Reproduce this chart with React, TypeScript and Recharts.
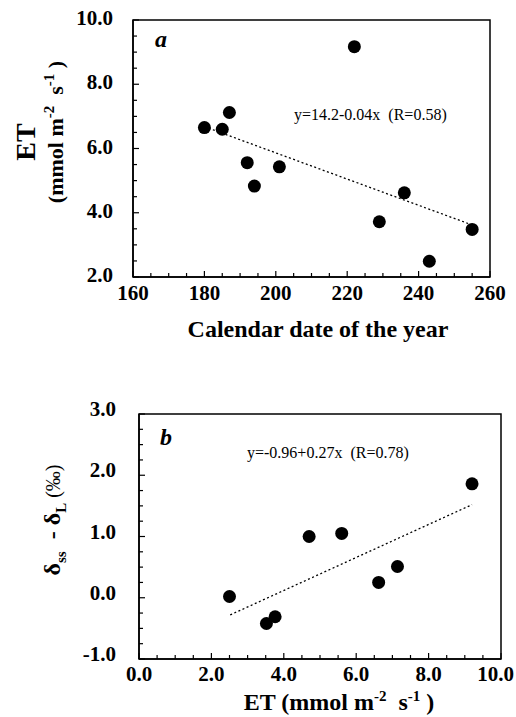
import React from "react"
import { ReferenceArea, Scatter, ScatterChart, XAxis, YAxis } from "recharts"

// panel a: ET versus calendar day
const daysA = [180, 185, 187, 192, 194, 201, 222, 229, 236, 243, 255]
const etA = [6.65, 6.6, 7.12, 5.56, 4.83, 5.43, 9.17, 3.72, 4.62, 2.49, 3.48]
const trendDaysA = [180, 255]
const trendEtA = [6.68, 3.62]

// panel b: delta difference versus ET
const etB = [2.5, 3.52, 3.76, 4.7, 5.6, 6.62, 7.14, 9.2]
const deltaB = [0.02, -0.42, -0.31, 1.0, 1.05, 0.25, 0.51, 1.86]
const trendEtB = [2.52, 9.2]
const trendDeltaB = [-0.28, 1.52]

const xLabelsA = [160, 180, 200, 220, 240, 260]
const yLabelsA = [2, 4, 6, 8, 10]
const xLabelsB = [0, 2, 4, 6, 8, 10]
const yLabelsB = [-1, 0, 1, 2, 3]

const pointsA = daysA.map((x, i) => ({ x, y: etA[i] }))
const lineA = trendDaysA.map((x, i) => ({ x, y: trendEtA[i] }))
const pointsB = etB.map((x, i) => ({ x, y: deltaB[i] }))
const lineB = trendEtB.map((x, i) => ({ x, y: trendDeltaB[i] }))

const steps = (lo: number, hi: number, step: number) => {
  const out: number[] = []
  for (let i = 0; lo + i * step <= hi + 1e-9; i++) out.push(+(lo + i * step).toFixed(4))
  return out
}

const FONT = "'Liberation Serif', 'Times New Roman', serif"
const TICK_FS = 21
const isLabel = (labels: number[], v: number) => labels.some((l) => Math.abs(l - v) < 1e-6)

const makeXTick = (labels: number[], digits: number, dy: number) => (props: any) => {
  const { x, y, payload } = props
  const major = isLabel(labels, payload.value)
  const label = payload.value.toFixed(digits)
  // keep the last label inside the page
  const half = label.length * 5
  const atEdge = x + half > 513
  return (
    <g>
      <line x1={x} x2={x} y1={y} y2={y - (major ? 6 : 4)} stroke="#000" strokeWidth={1.2} />
      {major && (
        <text
          x={atEdge ? 514 : x}
          y={y + dy}
          textAnchor={atEdge ? "end" : "middle"}
          fontFamily={FONT}
          fontWeight="bold"
          fontSize={TICK_FS}
          fill="#000"
        >
          {label}
        </text>
      )}
    </g>
  )
}

const makeYTick = (labels: number[], gap: number, dy: number) => (props: any) => {
  const { x, y, payload } = props
  const major = isLabel(labels, payload.value)
  return (
    <g>
      <line x1={x} x2={x + (major ? 6 : 4)} y1={y} y2={y} stroke="#000" strokeWidth={1.2} />
      {major && (
        <text x={x - gap} y={y + dy} textAnchor="end" fontFamily={FONT} fontWeight="bold" fontSize={TICK_FS} fill="#000">
          {payload.value.toFixed(1)}
        </text>
      )}
    </g>
  )
}

const dot = (props: any) => <circle cx={props.cx} cy={props.cy} r={6.5} fill="#000" />
const none = () => <g />
const dotted = { stroke: "#000", strokeWidth: 1.3, strokeDasharray: "2 2.5" }

export default function App() {
  return (
    <div style={{ position: "absolute", left: 0, top: 0, width: 516, height: 717, background: "#fff", fontFamily: FONT }}>
      <div style={{ position: "absolute", left: 0, top: 0 }}>
        <ScatterChart width={516} height={345} margin={{ top: 20, right: 26, left: 0, bottom: 0 }}>
          <XAxis
            dataKey="x"
            type="number"
            domain={[160, 260]}
            ticks={steps(160, 260, 5)}
            interval={0}
            height={68}
            tickSize={0}
            tickMargin={0}
            tickLine={false}
            axisLine={{ stroke: "#000", strokeWidth: 1.5 }}
            tick={makeXTick(xLabelsA, 0, 23)}
          />
          <YAxis
            dataKey="y"
            type="number"
            domain={[2, 10]}
            ticks={steps(2, 10, 0.5)}
            interval={0}
            width={133}
            tickSize={0}
            tickMargin={0}
            tickLine={false}
            axisLine={{ stroke: "#000", strokeWidth: 1.5 }}
            tick={makeYTick(yLabelsA, 20, 5)}
          />
          <ReferenceArea x1={160} x2={260} y1={2} y2={10} fill="none" stroke="#000" strokeWidth={1.5} />
          <Scatter data={lineA} shape={none} line={dotted} isAnimationActive={false} />
          <Scatter data={pointsA} shape={dot} isAnimationActive={false} />
        </ScatterChart>
      </div>
      <div style={{ position: "absolute", left: 0, top: 380 }}>
        <ScatterChart width={516} height={337} margin={{ top: 34, right: 15, left: 0, bottom: 0 }}>
          <XAxis
            dataKey="x"
            type="number"
            domain={[0, 10]}
            ticks={steps(0, 10, 0.5)}
            interval={0}
            height={58}
            tickSize={0}
            tickMargin={0}
            tickLine={false}
            axisLine={{ stroke: "#000", strokeWidth: 1.5 }}
            tick={makeXTick(xLabelsB, 1, 22)}
          />
          <YAxis
            dataKey="y"
            type="number"
            domain={[-1, 3]}
            ticks={steps(-1, 3, 0.25)}
            interval={0}
            width={139}
            tickSize={0}
            tickMargin={0}
            tickLine={false}
            axisLine={{ stroke: "#000", strokeWidth: 1.5 }}
            tick={makeYTick(yLabelsB, 23, 2)}
          />
          <ReferenceArea x1={0} x2={10} y1={-1} y2={3} fill="none" stroke="#000" strokeWidth={1.5} />
          <Scatter data={lineB} shape={none} line={dotted} isAnimationActive={false} />
          <Scatter data={pointsB} shape={dot} isAnimationActive={false} />
        </ScatterChart>
      </div>
      <svg width={516} height={717} style={{ position: "absolute", left: 0, top: 0, pointerEvents: "none" }} fontFamily={FONT} fill="#000">
        {/* panel a */}
        <text x={155} y={47} fontSize={24} fontWeight="bold" fontStyle="italic">a</text>
        <text x={294} y={120} fontSize={16} style={{ whiteSpace: "pre" }}>y=14.2-0.04x  (R=0.58)</text>
        <text transform="rotate(-90 35 142)" x={35} y={142} textAnchor="middle" fontSize={28} fontWeight="bold">ET</text>
        <text transform="rotate(-90 63 132)" x={63} y={132} textAnchor="middle" fontSize={22} fontWeight="bold" style={{ whiteSpace: "pre" }}>
          (mmol m<tspan dy={-9} fontSize={15}>-2</tspan><tspan dy={9}>  s</tspan><tspan dy={-9} fontSize={15}>-1</tspan><tspan dy={9}> )</tspan>
        </text>
        <text x={318} y={337} textAnchor="middle" fontSize={24} fontWeight="bold">Calendar date of the year</text>
        {/* panel b */}
        <text x={160} y={445} fontSize={24} fontWeight="bold" fontStyle="italic">b</text>
        <text x={247} y={458} fontSize={16} style={{ whiteSpace: "pre" }}>y=-0.96+0.27x  (R=0.78)</text>
        <text transform="rotate(-90 60 520)" x={60} y={520} textAnchor="middle" fontSize={24} fontWeight="bold" style={{ whiteSpace: "pre" }}>
          δ<tspan dy={6} fontSize={15}>ss</tspan><tspan dy={-6}>  - </tspan>δ<tspan dy={6} fontSize={15}>L</tspan><tspan dy={-6} fontWeight="normal" fontSize={20}> (‰)</tspan>
        </text>
        <text x={339} y={710} textAnchor="middle" fontSize={24} fontWeight="bold" style={{ whiteSpace: "pre" }}>
          ET (mmol m<tspan dy={-9} fontSize={15}>-2</tspan><tspan dy={9}>  s</tspan><tspan dy={-9} fontSize={15}>-1</tspan><tspan dy={9}> )</tspan>
        </text>
      </svg>
    </div>
  )
}
